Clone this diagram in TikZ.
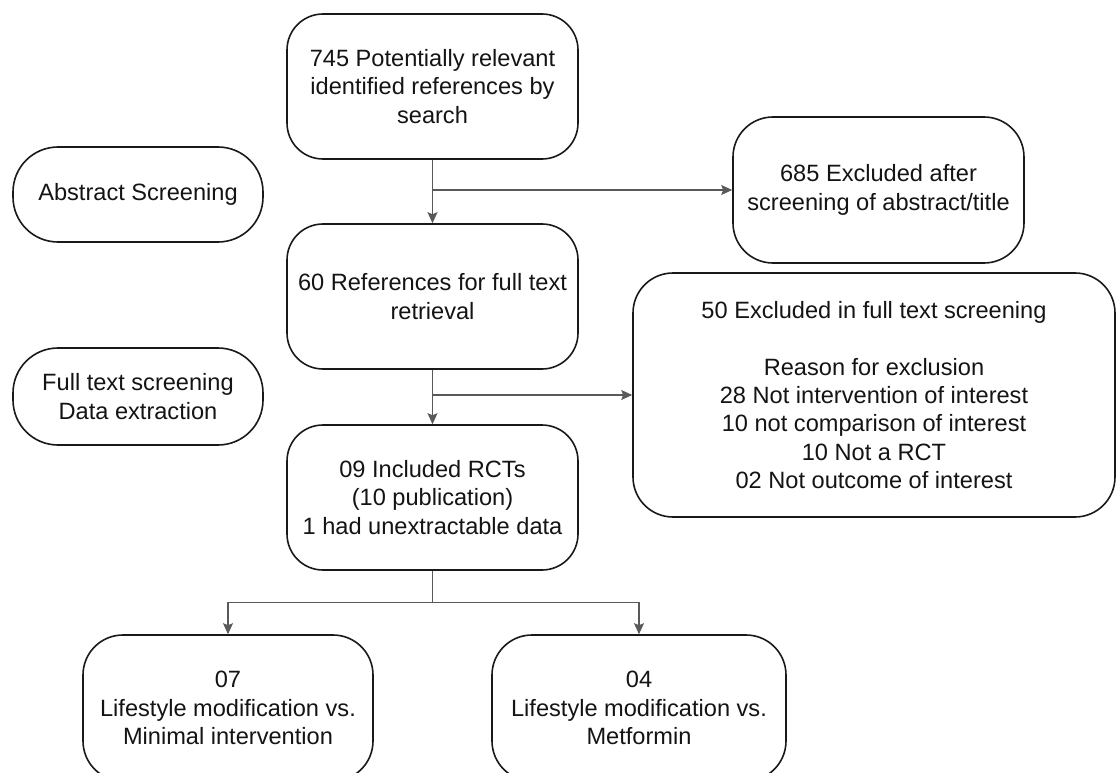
\documentclass[tikz,border=0pt]{standalone}
\usepackage{fontspec}
\setmainfont{Liberation Sans}
\usetikzlibrary{arrows.meta,calc}
\begin{document}
\begin{tikzpicture}[x=1pt,y=-1pt,
  box/.style={draw=black!90, line width=1.6pt, rounded corners=36pt, align=center, inner sep=0pt,
    font=\fontsize{23.6}{28.3}\selectfont, text=black!92},
  pill/.style={box, rounded corners=45pt},
  conn/.style={draw=black!65, line width=1.1pt},
  arr/.style={conn, -{Stealth[length=11pt,width=10pt,inset=2pt]}}
]
\clip (0,0) rectangle (1117,773);
\fill[white] (0,0) rectangle (1117,773);

\node[box, minimum width=291pt, minimum height=145pt] (n1) at (432.5,86.5)
  {745 Potentially relevant\\identified references by\\search};
\node[pill, minimum width=250pt, minimum height=95pt] (abs) at (138,194.5)
  {Abstract Screening};
\node[box, rounded corners=40pt, minimum width=291pt, minimum height=146pt] (ex1) at (878.5,190)
  {685 Excluded after\\screening of abstract/title};
\node[box, minimum width=291pt, minimum height=145pt] (n2) at (432.5,296.5)
  {60 References for full text\\retrieval};
\node[pill, minimum width=250pt, minimum height=97pt] (ft) at (138,396.5)
  {Full text screening\\Data extraction};
\node[box, rounded corners=40pt, minimum width=482pt, minimum height=244pt] (ex2) at (874,395)
  {50 Excluded in full text screening\\[28.3pt]Reason for exclusion\\28 Not intervention of interest\\10 not comparison of interest\\10 Not a RCT\\02 Not outcome of interest};
\node[box, minimum width=291pt, minimum height=145pt] (n3) at (432.5,497.5)
  {09 Included RCTs\\(10 publication)\\1 had unextractable data};
\node[box, rounded corners=40pt, minimum width=290pt, minimum height=146pt] (b1) at (228,708)
  {07\\Lifestyle modification vs.\\Minimal intervention};
\node[box, rounded corners=40pt, minimum width=294pt, minimum height=146pt] (b2) at (639,708)
  {04\\Lifestyle modification vs.\\Metformin};

\coordinate (j1) at (n1.south |- ex1.west);
\coordinate (j2) at (n2.south |- ex2.west);
\coordinate (j3) at ($(n3.south)+(0,32)$);

\draw[arr] (n1.south) -- (n2.north);
\draw[arr] (j1) -- (ex1.west);
\draw[arr] (n2.south) -- (n3.north);
\draw[arr] (j2) -- (ex2.west);
\draw[conn] (n3.south) -- (j3);
\draw[arr] (j3) -| (b1.north);
\draw[arr] (j3) -| (b2.north);
\end{tikzpicture}
\end{document}
